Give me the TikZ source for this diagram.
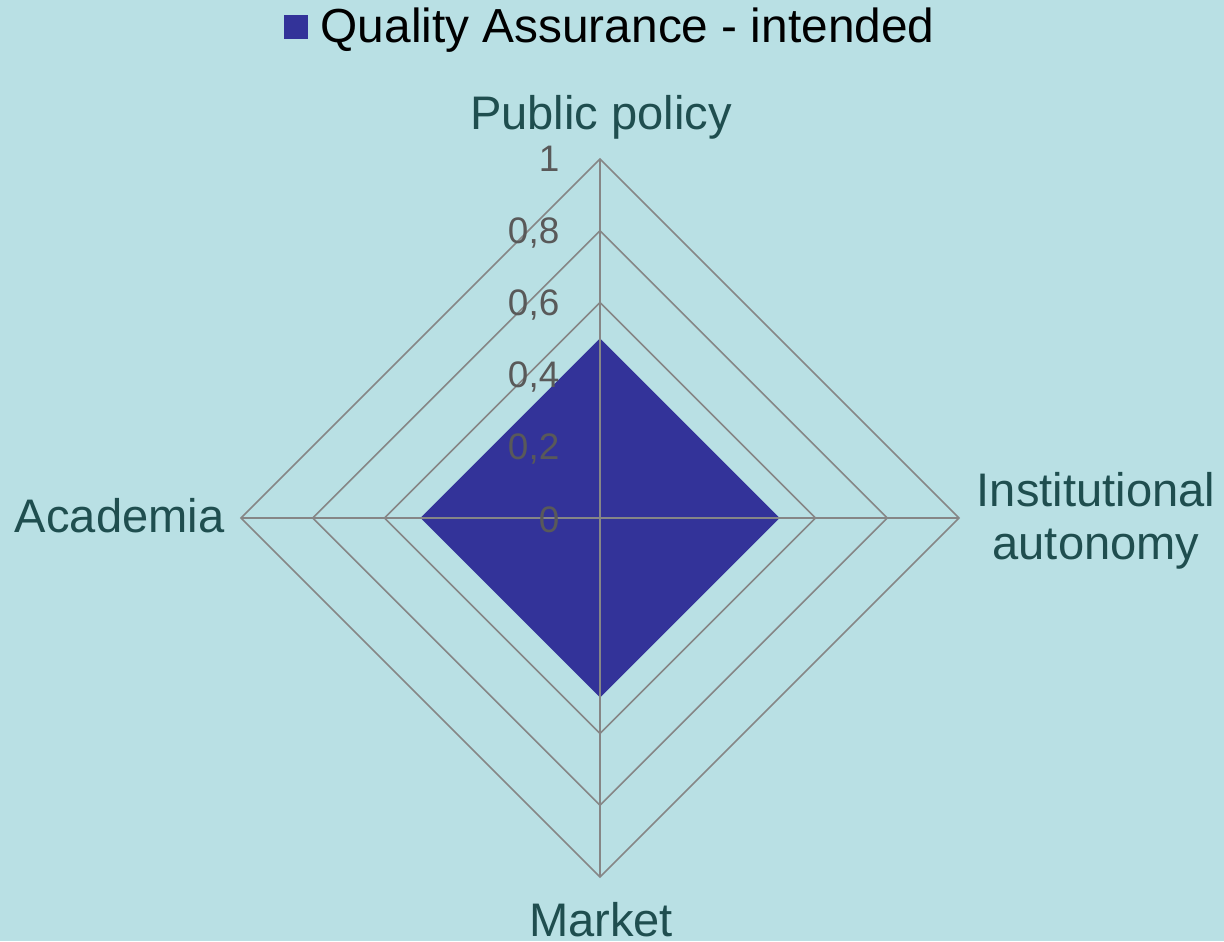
\documentclass[tikz,border=0pt]{standalone}
\usepackage{fontspec}
\setmainfont{Liberation Sans}
\definecolor{chartbg}{RGB}{185,224,228}
\definecolor{qaseries}{RGB}{51,51,153}
\definecolor{gridgray}{RGB}{134,134,134}
\definecolor{axislabel}{RGB}{31,78,79}
\definecolor{ticklabel}{RGB}{89,89,89}
\begin{document}
\begin{tikzpicture}[
  ring/.style={gridgray, line width=0.45pt},
  axislbl/.style={text=axislabel, font=\fontsize{13.4}{15.2}\selectfont, inner sep=0pt},
  ticklbl/.style={text=ticklabel, font=\fontsize{10.5}{12}\selectfont, anchor=base east, inner sep=0pt}
]
\fill [chartbg] (-6.00,-4.23) rectangle (6.24,5.18);
\useasboundingbox (-6.00,-4.23) rectangle (6.24,5.18);

\draw[ring] (0,0.718) -- (0.718,0) -- (0,-0.718) -- (-0.718,0) -- cycle;
\draw[ring] (0,1.436) -- (1.436,0) -- (0,-1.436) -- (-1.436,0) -- cycle;
\draw[ring] (0,2.154) -- (2.154,0) -- (0,-2.154) -- (-2.154,0) -- cycle;
\draw[ring] (0,2.872) -- (2.872,0) -- (0,-2.872) -- (-2.872,0) -- cycle;
\draw[ring] (0,3.59) -- (3.59,0) -- (0,-3.59) -- (-3.59,0) -- cycle;

\fill [qaseries] (0,1.795) -- (1.795,0) -- (0,-1.795) -- (-1.795,0) -- cycle;

\coordinate (top) at (0,3.59);
\coordinate (bottom) at (0,-3.59);
\coordinate (left) at (-3.59,0);
\coordinate (right) at (3.59,0);
\draw[ring] (top) -- (bottom);
\draw[ring] (left) -- (right);

\node[ticklbl] (t0) at (-0.40,-0.14) {0};
\node[ticklbl] (t2) at (-0.40,0.588) {0,2};
\node[ticklbl] (t4) at (-0.40,1.306) {0,4};
\node[ticklbl] (t6) at (-0.40,2.024) {0,6};
\node[ticklbl] (t8) at (-0.40,2.742) {0,8};
\node[ticklbl] (t10) at (-0.40,3.46) {1};

\node[axislbl, anchor=base] (public) at (0.01,3.88) {Public policy};
\node[axislbl, anchor=center, align=center] (autonomy) at (4.96,-0.03) {Institutional\\autonomy};
\node[axislbl, anchor=base] (market) at (0.01,-4.18) {Market};
\node[axislbl, anchor=base east] (academia) at (-3.75,-0.15) {Academia};

\fill [qaseries] (-3.16,4.79) rectangle (-2.92,5.03);
\node[axislbl, text=black, font=\fontsize{13.6}{15.2}\selectfont, anchor=base west] (legend) at (-2.80,4.75) {Quality Assurance - intended};
\end{tikzpicture}
\end{document}
